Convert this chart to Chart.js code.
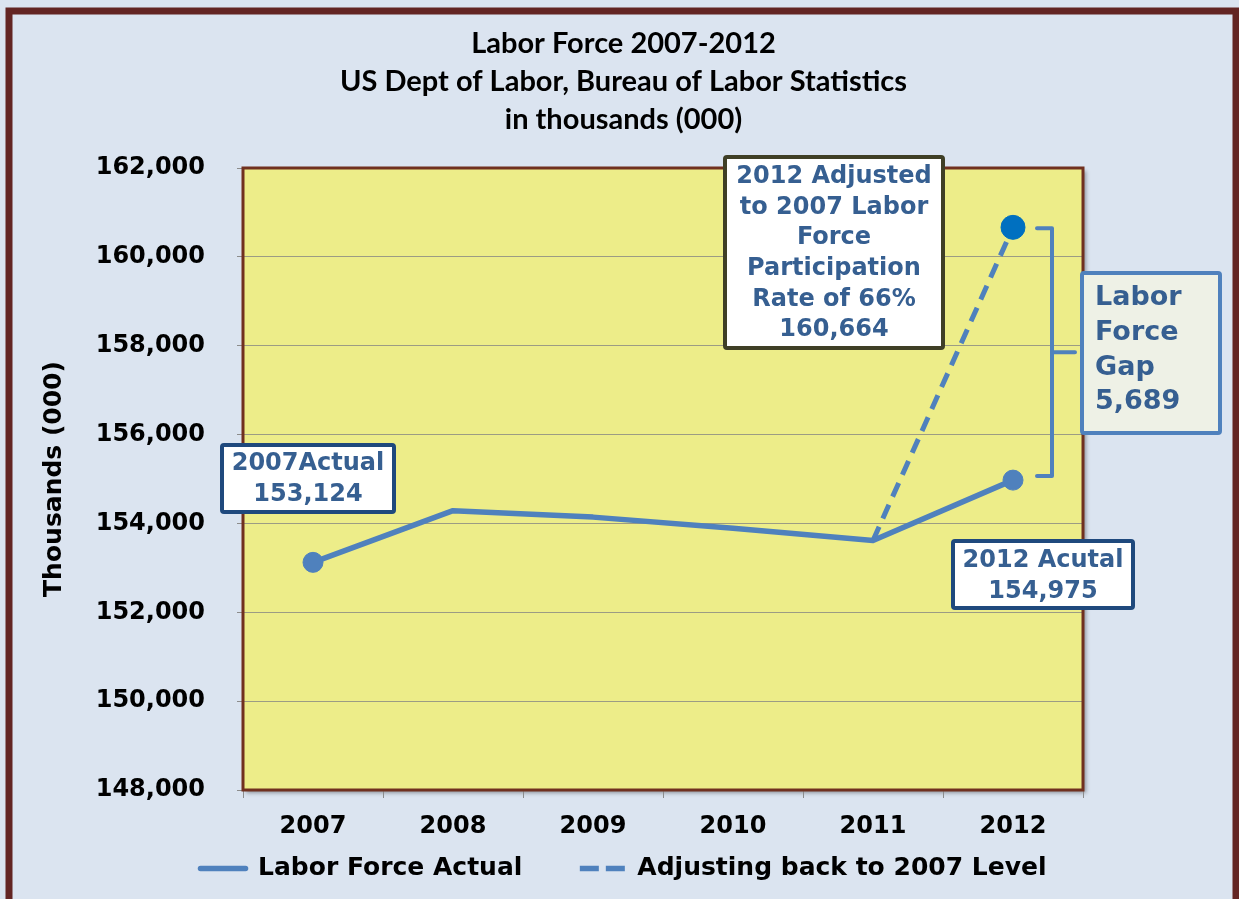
<!DOCTYPE html>
<html>
<head>
<meta charset="utf-8">
<title>Labor Force 2007-2012</title>
<script src="https://cdn.jsdelivr.net/npm/chart.js@4.4.1/dist/chart.umd.min.js"></script>
<style>
  html, body { margin: 0; padding: 0; background: #dbe4f0; }
  #wrap { width: 1239px; height: 899px; position: relative; }
</style>
</head>
<body>
<div id="wrap"><canvas id="chart" width="1239" height="899"></canvas></div>
<script>
// ---- data (thousands of persons, annual averages) ----
const years = ['2007', '2008', '2009', '2010', '2011', '2012'];
const laborForceActual = [153124, 154287, 154142, 153889, 153617, 154975];
const adjustedTo2007Level = [null, null, null, null, 153617, 160664];
const seriesNames = ['Labor Force Actual', 'Adjusting back to 2007 Level'];
const yMin = 148000;
const yMax = 162000;
const yStep = 2000;
const titleLines = ['Labor Force 2007-2012', 'US Dept of Labor, Bureau of Labor Statistics', 'in thousands (000)'];
const yAxisTitle = 'Thousands (000)';
const participationRate = '66%';

const fmt = v => v.toLocaleString('en-US');
const last = years.length - 1;
const laborGap = adjustedTo2007Level[last] - laborForceActual[last];

const VERDANA = "'DejaVu Sans', Verdana, sans-serif";
const CALIBRI = "Lato, Carlito, Calibri, sans-serif";
const LINE_BLUE = '#4f81bd';
const NOTE_TEXT = '#365f91';

// page background, outer frame and the yellow plot panel
const framePlugin = {
  id: 'frame',
  beforeDraw(chart) {
    const { ctx, chartArea: a, width, height } = chart;
    ctx.save();
    ctx.fillStyle = '#dbe4f0';
    ctx.fillRect(0, 0, width, height);
    ctx.strokeStyle = '#632523';
    ctx.lineWidth = 7;
    ctx.strokeRect(9, 11, width - 12, height - 4);
    ctx.shadowColor = 'rgba(0,0,0,0.35)';
    ctx.shadowOffsetX = 3;
    ctx.shadowOffsetY = 3;
    ctx.shadowBlur = 4;
    ctx.fillStyle = '#eded89';
    ctx.fillRect(a.left, a.top, a.right - a.left, a.bottom - a.top);
    ctx.restore();
  },
  beforeDatasetsDraw(chart) {
    const { ctx, chartArea: a } = chart;
    ctx.save();
    ctx.strokeStyle = '#70301f';
    ctx.lineWidth = 3;
    ctx.strokeRect(a.left, a.top, a.right - a.left, a.bottom - a.top);
    ctx.restore();
  }
};

function roundRectPath(ctx, x, y, w, h, r) {
  ctx.beginPath();
  ctx.moveTo(x + r, y);
  ctx.lineTo(x + w - r, y);
  ctx.quadraticCurveTo(x + w, y, x + w, y + r);
  ctx.lineTo(x + w, y + h - r);
  ctx.quadraticCurveTo(x + w, y + h, x + w - r, y + h);
  ctx.lineTo(x + r, y + h);
  ctx.quadraticCurveTo(x, y + h, x, y + h - r);
  ctx.lineTo(x, y + r);
  ctx.quadraticCurveTo(x, y, x + r, y);
  ctx.closePath();
}

function drawNote(ctx, n) {
  ctx.save();
  roundRectPath(ctx, n.x, n.y, n.w, n.h, 2);
  ctx.fillStyle = n.fill;
  ctx.fill();
  ctx.lineWidth = 4;
  ctx.strokeStyle = n.stroke;
  ctx.stroke();
  ctx.fillStyle = NOTE_TEXT;
  ctx.font = `bold ${n.size}px ${VERDANA}`;
  ctx.textAlign = n.align;
  ctx.textBaseline = 'middle';
  n.lines.forEach((t, i) => ctx.fillText(t, n.tx, n.ty + i * n.lh));
  ctx.restore();
}

// callout boxes and the gap bracket
const notesPlugin = {
  id: 'notes',
  afterDatasetsDraw(chart) {
    const { ctx } = chart;
    const xs = chart.scales.x;
    const ys = chart.scales.y;
    const x12 = xs.getPixelForValue(last);
    const yHigh = ys.getPixelForValue(adjustedTo2007Level[last]);
    const yLow = ys.getPixelForValue(laborForceActual[last]);

    // bracket spanning the two 2012 values
    ctx.save();
    ctx.strokeStyle = LINE_BLUE;
    ctx.lineWidth = 4;
    ctx.lineJoin = 'round';
    ctx.lineCap = 'round';
    const bx = x12 + 39;
    const yTop = yHigh + 1;
    const yBot = yLow - 4;
    const yMid = (yTop + yBot) / 2;
    ctx.beginPath();
    ctx.moveTo(x12 + 24, yTop);
    ctx.lineTo(bx, yTop);
    ctx.lineTo(bx, yBot);
    ctx.lineTo(x12 + 24, yBot);
    ctx.moveTo(bx, yMid);
    ctx.lineTo(x12 + 62, yMid);
    ctx.stroke();
    ctx.restore();

    drawNote(ctx, {
      x: 222, y: 445, w: 172, h: 67, fill: '#ffffff', stroke: '#1f497d',
      size: 24, align: 'center', tx: 308, ty: 464, lh: 31,
      lines: [years[0] + 'Actual', fmt(laborForceActual[0])]
    });
    drawNote(ctx, {
      x: 953, y: 541, w: 180, h: 67, fill: '#ffffff', stroke: '#1f497d',
      size: 24, align: 'center', tx: 1043, ty: 561, lh: 31,
      lines: [years[last] + ' Acutal', fmt(laborForceActual[last])]
    });
    drawNote(ctx, {
      x: 725, y: 157, w: 218, h: 191, fill: '#ffffff', stroke: '#3f3f26',
      size: 24, align: 'center', tx: 834, ty: 177, lh: 30.6,
      lines: [years[last] + ' Adjusted', 'to ' + years[0] + ' Labor', 'Force', 'Participation',
              'Rate of ' + participationRate, fmt(adjustedTo2007Level[last])]
    });
    drawNote(ctx, {
      x: 1082, y: 273, w: 138, h: 160, fill: '#eef1e6', stroke: LINE_BLUE,
      size: 27, align: 'left', tx: 1095, ty: 298, lh: 34.8,
      lines: ['Labor', 'Force', 'Gap', fmt(laborGap)]
    });
  }
};

// legend entries drawn as short line samples (solid / dashed)
const legendDash = [[], [19, 7]];
function legendLabels(chart) {
  const n = chart.data.datasets.length;
  return chart.data.datasets.map((ds, i) => ({
    text: ds.label + (i < n - 1 ? '\u2002\u2002\u2002' : ''),
    fillStyle: ds.borderColor,
    strokeStyle: ds.borderColor,
    lineWidth: 5.5,
    lineDash: legendDash[i],
    lineCap: i === 0 ? 'round' : 'butt',
    pointStyle: 'line',
    fontColor: '#000000',
    hidden: false,
    datasetIndex: i
  }));
}

new Chart(document.getElementById('chart'), {
  type: 'line',
  data: {
    labels: years,
    datasets: [
      {
        label: seriesNames[0],
        data: laborForceActual,
        borderColor: LINE_BLUE,
        backgroundColor: LINE_BLUE,
        borderWidth: 5.5,
        borderCapStyle: 'round',
        borderJoinStyle: 'round',
        tension: 0,
        pointRadius: c => (c.dataIndex === 0 || c.dataIndex === last) ? 10 : 0,
        pointBorderWidth: 1,
        pointBackgroundColor: LINE_BLUE,
        pointBorderColor: LINE_BLUE
      },
      {
        label: seriesNames[1],
        data: adjustedTo2007Level,
        borderColor: LINE_BLUE,
        backgroundColor: LINE_BLUE,
        borderWidth: 5,
        borderDash: [15, 9],
        tension: 0,
        spanGaps: false,
        pointRadius: c => c.dataIndex === last ? 12 : 0,
        pointBorderWidth: 1,
        pointBackgroundColor: '#0070c0',
        pointBorderColor: '#0070c0'
      }
    ]
  },
  options: {
    responsive: false,
    animation: false,
    events: [],
    layout: { padding: { top: 25, left: 14, right: 6, bottom: 8 } },
    plugins: {
      title: {
        display: true,
        text: titleLines,
        color: '#000000',
        font: { family: CALIBRI, size: 29, weight: 'bold', lineHeight: '38px' },
        padding: { top: 0, bottom: 29 }
      },
      legend: {
        display: true,
        position: 'bottom',
        labels: {
          color: '#000000',
          font: { family: VERDANA, size: 25, weight: 'bold' },
          usePointStyle: true,
          pointStyle: 'line',
          pointStyleWidth: 45,
          padding: 20,
          generateLabels: legendLabels
        }
      },
      tooltip: { enabled: false }
    },
    scales: {
      x: {
        offset: true,
        afterFit: s => { s.height = 46; },
        grid: {
          offset: true,
          drawOnChartArea: false,
          drawTicks: true,
          tickLength: 8,
          tickColor: '#8c8c8c'
        },
        border: { display: false },
        ticks: {
          color: '#000000',
          font: { family: VERDANA, size: 24, weight: 'bold' },
          padding: 14,
          maxRotation: 0
        }
      },
      y: {
        min: yMin,
        max: yMax,
        afterFit: s => { s.width = 229; },
        grid: {
          color: '#9c9c84',
          lineWidth: 1,
          drawTicks: true,
          tickLength: 6,
          tickColor: '#8c8c8c'
        },
        border: { display: false },
        ticks: {
          stepSize: yStep,
          color: '#000000',
          font: { family: VERDANA, size: 24, weight: 'bold' },
          padding: 32,
          callback: v => fmt(v)
        },
        title: {
          display: true,
          text: yAxisTitle,
          color: '#000000',
          font: { family: VERDANA, size: 25, weight: 'bold' },
          padding: { top: 25, bottom: 0 }
        }
      },
      yRight: {
        type: 'linear',
        position: 'right',
        display: true,
        afterFit: s => { s.width = 150; },
        grid: { display: false },
        border: { display: false },
        ticks: { display: false }
      }
    }
  },
  plugins: [framePlugin, notesPlugin]
});
</script>
</body>
</html>
